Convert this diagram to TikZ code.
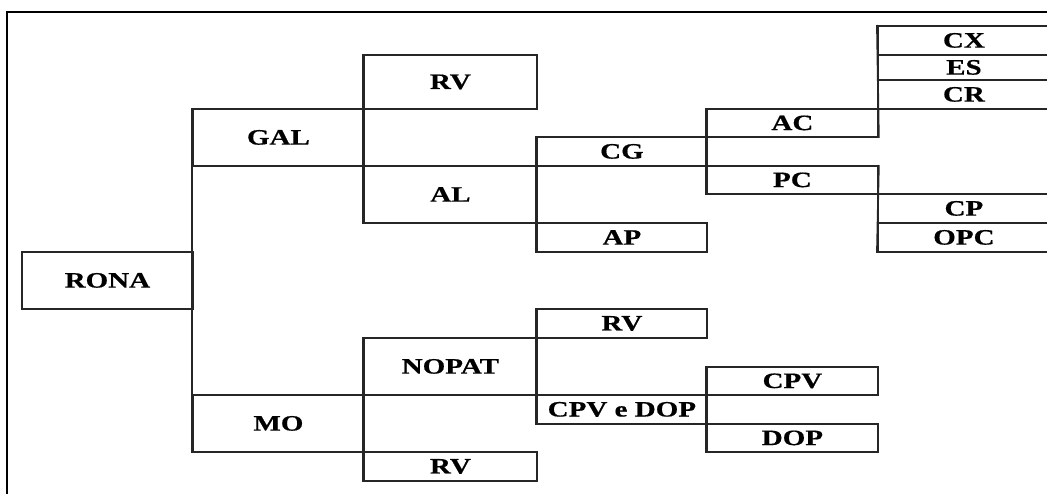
\documentclass[tikz,border=0pt]{standalone}
\usepackage{fontspec}
\newfontfamily\lbl[FakeStretch=1.32,FakeBold=0.6]{Liberation Serif}
\newcommand\mybox[6]{\node[box,minimum width=#4pt,minimum height=#5pt] (#1) at (#2,#3) {#6};}
\begin{document}
\begin{tikzpicture}[x=1pt,y=-1pt,
  box/.style={draw=black!85, line width=1.8pt, anchor=north west, inner sep=0pt,
    font=\lbl\bfseries\fontsize{22}{24}\selectfont},
  link/.style={draw=black!85, line width=1.8pt}]
\useasboundingbox (0,0) rectangle (1047,493);
\clip (0,0) rectangle (1047,493);
\draw[line width=2.4pt] (1060,12) -- (7,12) -- (7,505);
% column 1
\mybox{RONA}{21}{251}{171}{57}{RONA}
% column 2
\mybox{GAL}{192}{108}{171}{57}{GAL}
\mybox{MO}{192}{394}{171}{57}{MO}
% column 3
\mybox{RVa}{363}{54}{173}{54}{RV}
\mybox{AL}{363}{165}{173}{57}{AL}
\mybox{NOPAT}{363}{337}{173}{57}{NOPAT}
\mybox{RVc}{363}{451}{173}{29}{RV}
% column 4
\mybox{CG}{536}{136}{170}{29}{CG}
\mybox{AP}{536}{222}{170}{29}{AP}
\mybox{RVb}{536}{308}{170}{29}{RV}
\mybox{CPVDOP}{536}{394}{170}{29}{CPV e DOP}
% column 5
\mybox{AC}{706}{108}{171}{28}{AC}
\mybox{PC}{706}{165}{171}{28}{PC}
\mybox{CPV}{706}{366}{171}{28}{CPV}
\mybox{DOP}{706}{423}{171}{28}{DOP}
% column 6
\mybox{CX}{877}{25}{172}{29}{CX}
\mybox{ES}{877}{54}{172}{25}{ES}
\mybox{CR}{877}{79}{172}{29}{CR}
\mybox{CP}{877}{193}{172}{29}{CP}
\mybox{OPC}{877}{222}{172}{29}{OPC}
% connectors
\draw[link] (GAL.north west) -- (MO.south west);
\draw[link] (RVa.north west) -- (AL.south west);
\draw[link] (CG.north west) -- (AP.south west);
\draw[link] (AC.north west) -- (PC.south west);
\draw[link] (CX.north west) -- (AC.south east);
\draw[link] (PC.north east) -- (OPC.south west);
\draw[link] (NOPAT.north west) -- (RVc.south west);
\draw[link] (RVb.north west) -- (CPVDOP.south west);
\draw[link] (CPV.north west) -- (DOP.south west);
\end{tikzpicture}
\end{document}
